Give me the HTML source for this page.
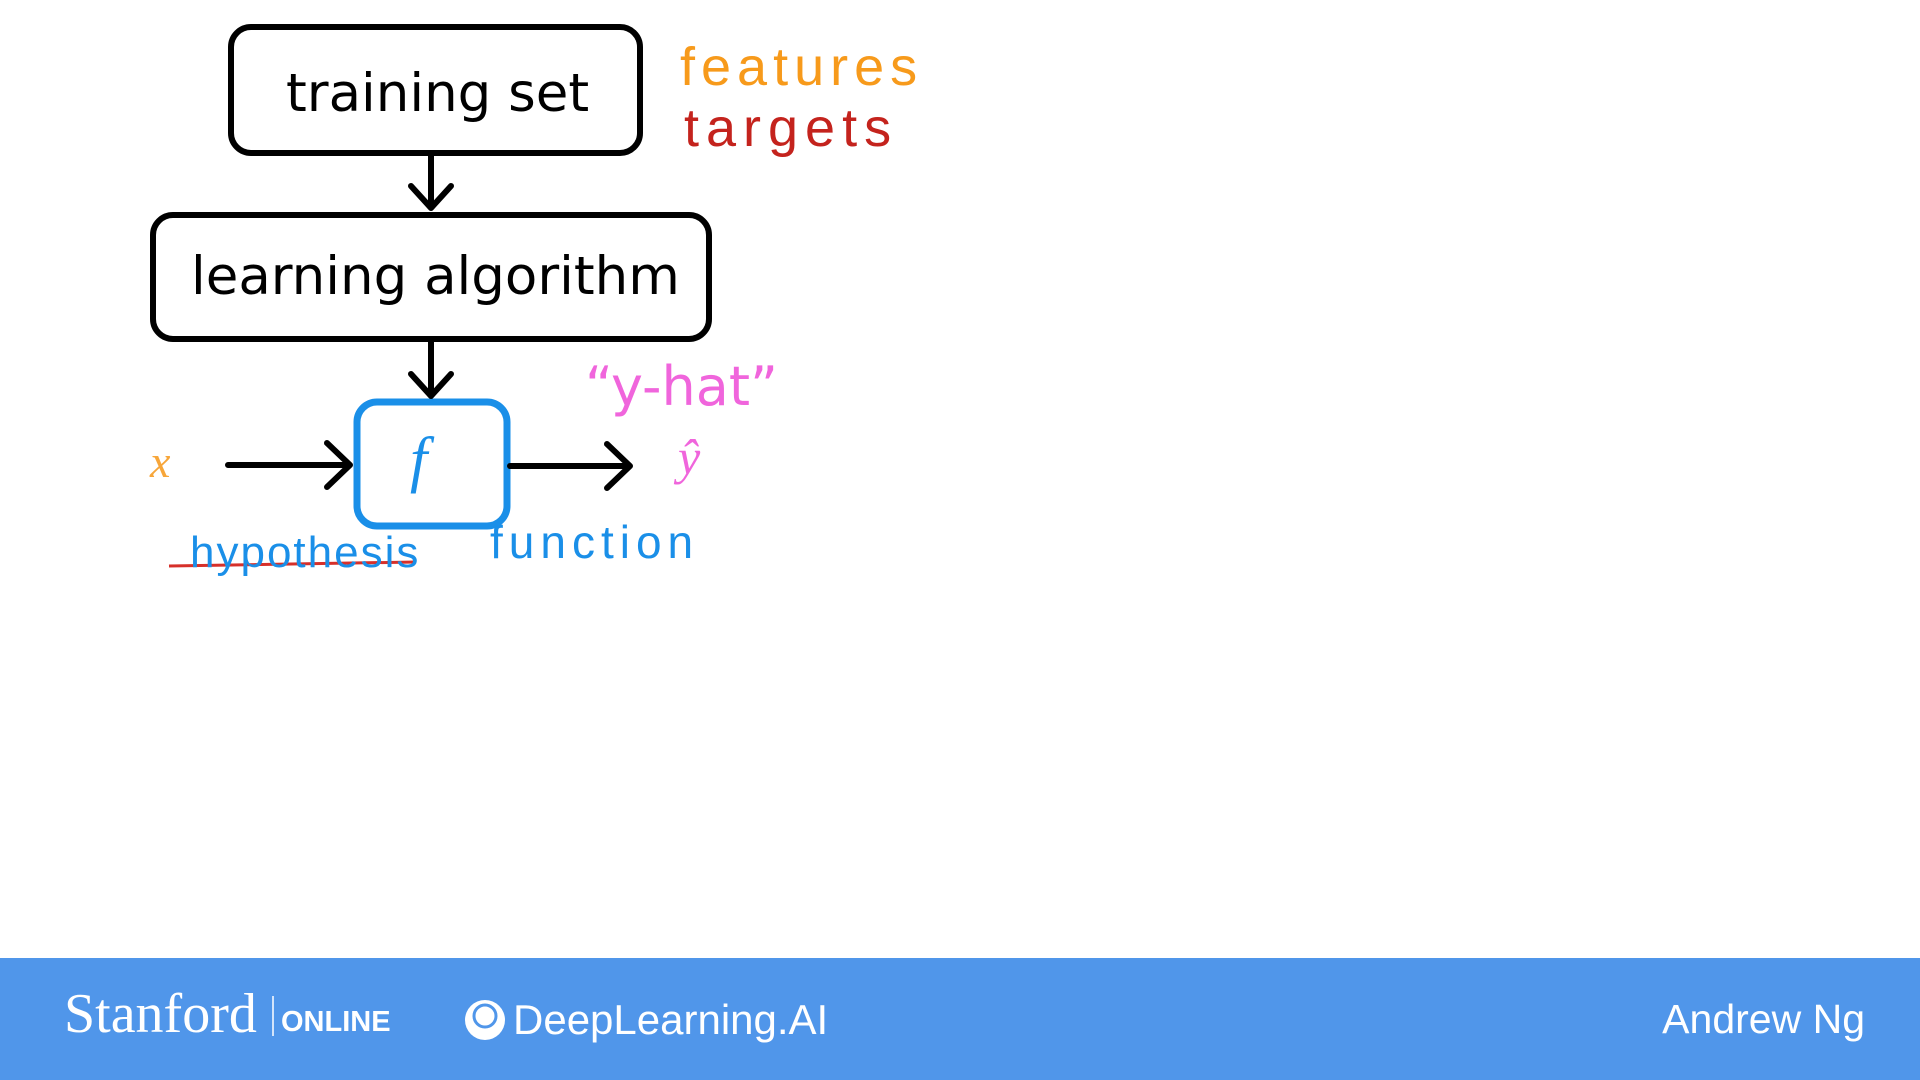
<!DOCTYPE html>
<html><head><style>
body{margin:0;width:1920px;height:1080px;background:#fff;overflow:hidden;position:relative;font-family:"Liberation Sans",sans-serif}
.t{position:absolute;white-space:nowrap}
</style></head><body>
<svg width="1920" height="1080" style="position:absolute;left:0;top:0">
<rect x="231" y="27" width="409" height="126" rx="20" fill="none" stroke="#000" stroke-width="6"/>
<rect x="153" y="215" width="556" height="124" rx="20" fill="none" stroke="#000" stroke-width="6"/>
<rect x="357" y="402" width="150" height="124" rx="20" fill="none" stroke="#1a8fe8" stroke-width="7"/>
<g stroke="#000" stroke-width="6" fill="none" stroke-linecap="round" stroke-linejoin="round">
<path d="M431 154V208M411 186L431 208L451 186"/>
<path d="M431 340V396M411 374L431 396L451 374"/>
<path d="M228 465H350M327 443L350 465L327 487"/>
<path d="M510 466H630M607 444L630 466L607 488"/>
</g>
<line x1="169" y1="566" x2="416" y2="562" stroke="#d6302a" stroke-width="3"/>
<rect x="0" y="958" width="1920" height="122" fill="#5096ea"/>
<circle cx="485" cy="1020" r="20" fill="#fff"/>
<circle cx="485" cy="1016" r="11" fill="none" stroke="#5096ea" stroke-width="3"/>
<line x1="273" y1="996" x2="273" y2="1036" stroke="#fff" stroke-width="1.5"/>
</svg>
<div class="t" style="left:286px;top:63px;font-size:53px;font-family:'DejaVu Sans',sans-serif">training set</div>
<div class="t" style="left:191px;top:246px;font-size:53px;font-family:'DejaVu Sans',sans-serif">learning algorithm</div>
<div class="t" style="left:410px;top:425px;font-size:62px;color:#1a8fe8;font-family:'Liberation Serif',serif;font-style:italic">f</div>
<div class="t" style="left:150px;top:435px;font-size:46px;color:#f7a63a;font-family:'Liberation Serif',serif;font-style:italic">x</div>
<div class="t" style="left:678px;top:428px;font-size:50px;color:#f065dc;font-family:'Liberation Serif',serif;font-style:italic">ŷ</div>
<div class="t" style="left:585px;top:355px;font-size:54px;color:#f065dc;font-family:'DejaVu Sans',sans-serif">“y-hat”</div>
<div class="t" style="left:680px;top:36px;font-size:54px;color:#f79a1b;letter-spacing:6px">features</div>
<div class="t" style="left:684px;top:97px;font-size:54px;color:#c4231d;letter-spacing:7px">targets</div>
<div class="t" style="left:190px;top:528px;font-size:44px;color:#1a8fe8;letter-spacing:2px">hypothesis</div>
<div class="t" style="left:490px;top:515px;font-size:46px;color:#1a8fe8;letter-spacing:6px">function</div>
<div class="t" style="left:64px;top:982px;font-size:56px;color:#fff;font-family:'Liberation Serif',serif">Stanford</div>
<div class="t" style="left:281px;top:1006px;font-size:29px;color:#fff;font-weight:bold">ONLINE</div>
<div class="t" style="left:513px;top:996px;font-size:42px;color:#fff">DeepLearning.AI</div>
<div class="t" style="right:55px;top:996px;font-size:41px;color:#fff">Andrew Ng</div>
</body></html>
